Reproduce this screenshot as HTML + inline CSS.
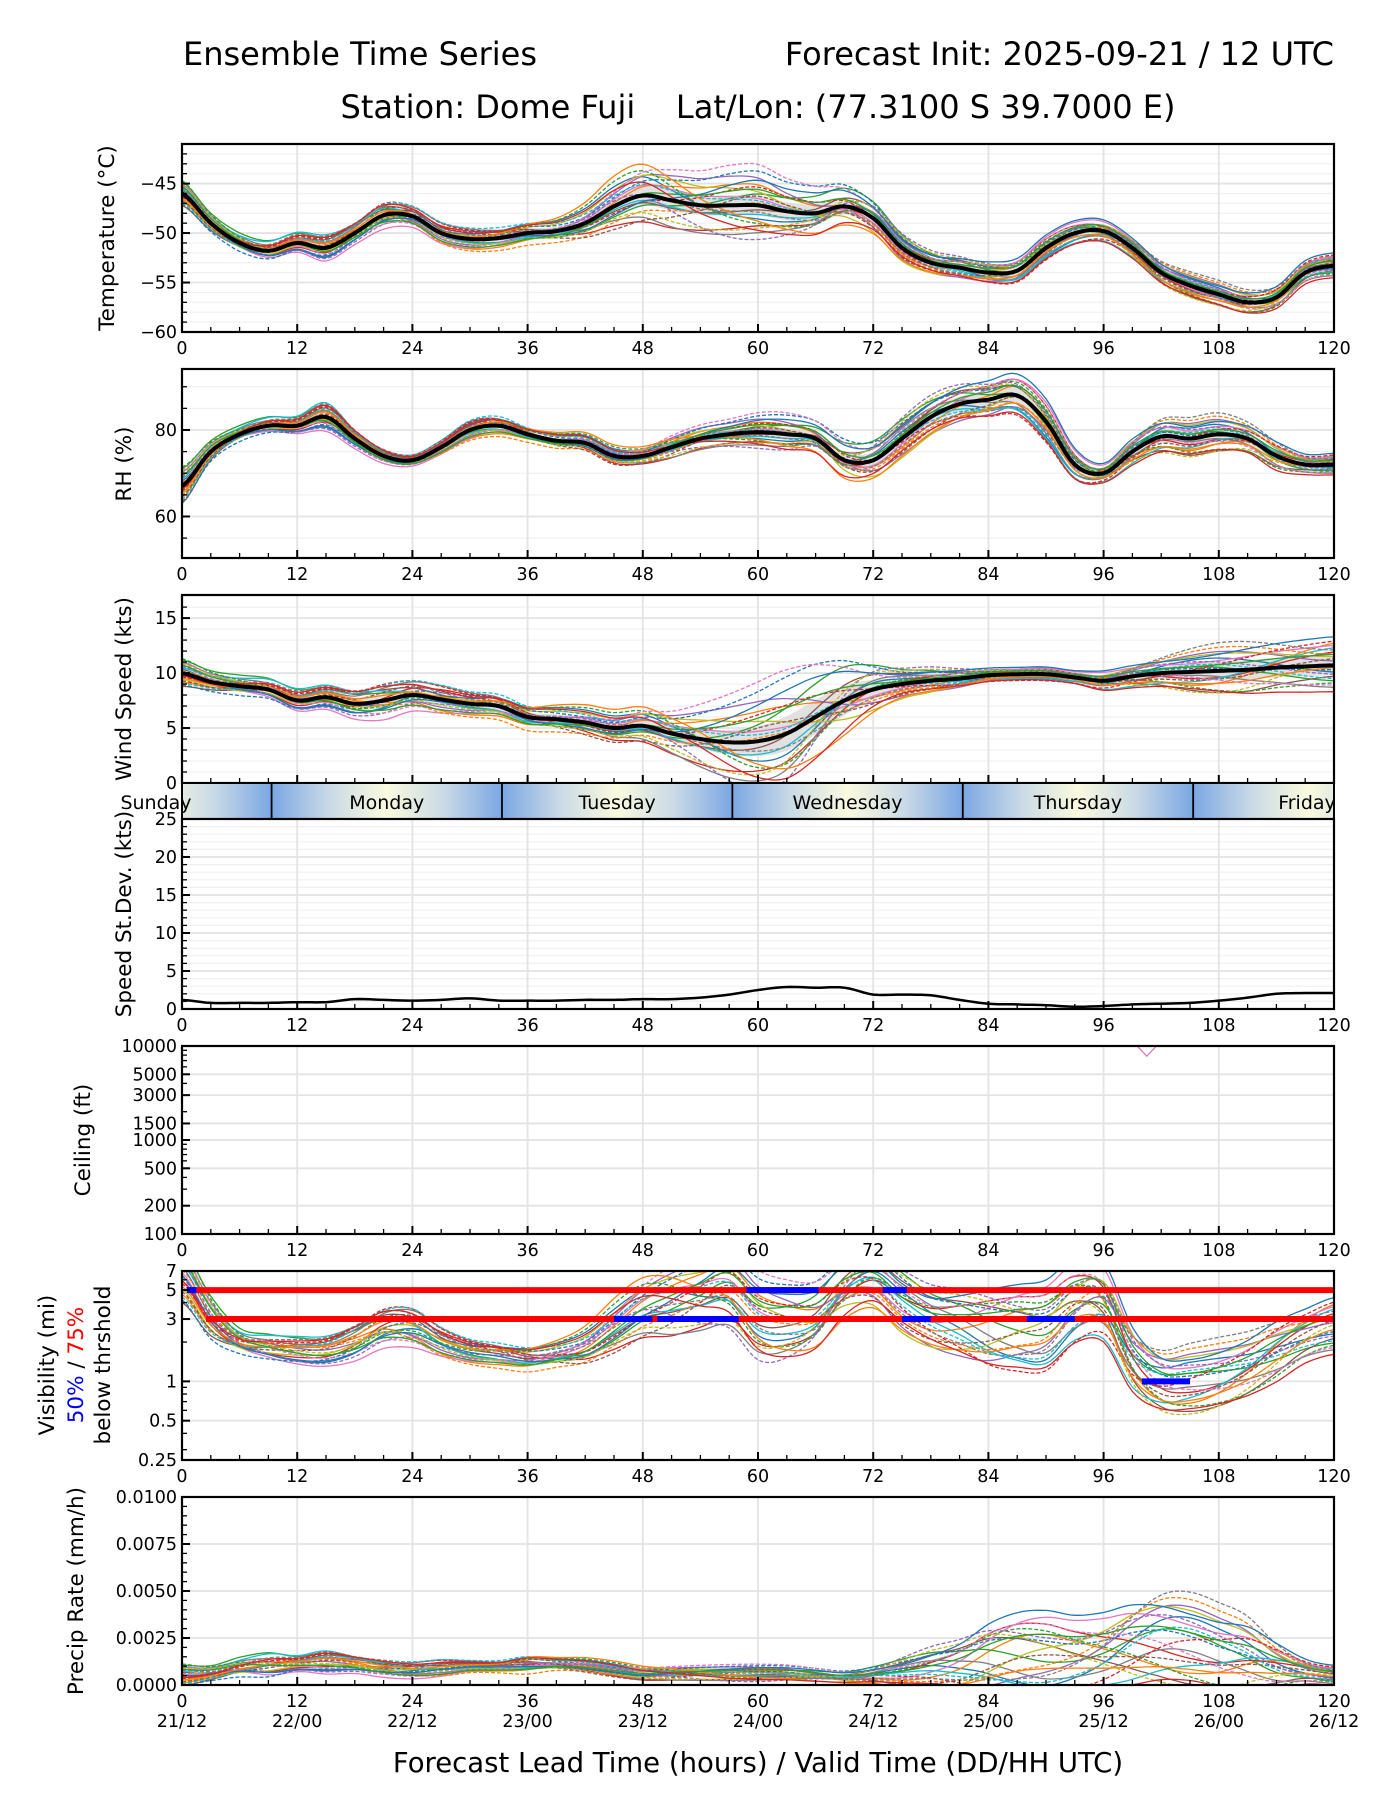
<!DOCTYPE html>
<html><head><meta charset="utf-8">
<style>
html,body{margin:0;padding:0;background:#fff;}
svg{display:block;font-family:"DejaVu Sans","Liberation Sans",sans-serif;}
</style></head>
<body>
<svg id="fig" width="1400" height="1800" viewBox="0 0 1400 1800" xmlns="http://www.w3.org/2000/svg">
<defs>
<linearGradient id="dayg" x1="0" x2="1" y1="0" y2="0">
<stop offset="0" stop-color="#7ba7e3"/><stop offset="0.25" stop-color="#c9d9e6"/><stop offset="0.5" stop-color="#fafade"/><stop offset="0.75" stop-color="#c9d9e6"/><stop offset="1" stop-color="#7ba7e3"/>
</linearGradient>
</defs>
<text x="183" y="65" font-size="32" fill="#000">Ensemble Time Series</text>
<text x="1334" y="65" font-size="32" text-anchor="end" fill="#000">Forecast Init: 2025-09-21 / 12 UTC</text>
<text x="758" y="118" font-size="32" text-anchor="middle" fill="#000" xml:space="preserve">Station: Dome Fuji    Lat/Lon: (77.3100 S 39.7000 E)</text>
<text x="758" y="1772" font-size="27.5" text-anchor="middle" fill="#000">Forecast Lead Time (hours) / Valid Time (DD/HH UTC)</text>
</svg>
<script>
// ---------- data (3-hourly, hours 0..120) ----------
const hours = [0,3,6,9,12,15,18,21,24,27,30,33,36,39,42,45,48,51,54,57,60,63,66,69,72,75,78,81,84,87,90,93,96,99,102,105,108,111,114,117,120];
const tempMean = [-46,-49,-51,-51.8,-51,-51.5,-50,-48.2,-48.3,-50,-50.6,-50.5,-50,-49.8,-49,-47.3,-46.2,-46.7,-47.2,-47.2,-47.2,-47.8,-48,-47.3,-48.5,-51.5,-53,-53.5,-54,-53.8,-51.5,-50,-49.8,-51.5,-54,-55.3,-56.2,-57,-56.5,-54,-53.3];
const tempSpread = [1.2,1,1,1,1,1.2,1,1.2,1,1,1,1,1,1,1.3,1.8,2.2,2.3,2.2,2.3,2.3,2,2,1.8,1.5,1.2,1,1,1,1,1,1,1,1,1,1,1,1,1,1,1];
const rhMean = [67,75,79,81,81,83,78,74,73,76,80,81,79,77.5,77,74,74,76,78,79,79.5,79,78,73,73,78,83,86,87,88,82,72,70,75,78.5,78,79,78,74,72,72];
const rhSpread = [4,2.5,2,2,2,3,2,1.5,1.2,1.5,2,2,1.5,1.5,1.5,1.5,1.5,2,2,2,2.5,3,3,4,4,4,4,4,4,4,4,3,2,3,3.5,3.5,3.5,3,3,2,2];
const windMean = [10,9.2,8.8,8.5,7.5,7.8,7.2,7.5,8,7.6,7.2,7,6,5.8,5.5,5,5.2,4.5,4,3.7,3.8,4.5,6,7.5,8.5,9,9.3,9.5,9.8,9.9,9.9,9.6,9.3,9.7,10,10.1,10.2,10.3,10.5,10.6,10.7];
const windSpread = [1.2,1,1,1,1,1,1.2,1.5,1.3,1.2,1,1,1,1,1,1,1.2,1.5,2,2.5,3,3.5,3.5,3,2,1.2,1,0.8,0.6,0.5,0.5,0.5,0.8,1,1.2,1.5,1.8,2,2,2,2];
const stdDev = [1.2,0.8,0.8,0.8,0.9,0.9,1.3,1.2,1.1,1.2,1.4,1.1,1.1,1.1,1.2,1.2,1.3,1.3,1.5,1.9,2.5,2.9,2.8,2.8,1.9,1.9,1.8,1.2,0.7,0.6,0.5,0.3,0.4,0.6,0.7,0.8,1.1,1.5,2,2.1,2.1];
const visMedian = [6.5,3,2,1.8,1.7,1.7,2,2.6,2.6,2,1.7,1.6,1.5,1.6,1.8,2.5,3.5,4,4.5,5,3,2.7,3,5,6,4,3,2.7,2.5,2.5,2.6,4,4,1.5,1,1,1.1,1.3,1.7,2.2,2.6];
const visSpreadLog = [0.3,0.25,0.15,0.15,0.15,0.15,0.18,0.2,0.2,0.15,0.12,0.12,0.12,0.12,0.15,0.2,0.25,0.3,0.3,0.3,0.3,0.3,0.3,0.3,0.3,0.3,0.3,0.35,0.4,0.4,0.4,0.4,0.4,0.35,0.3,0.3,0.3,0.3,0.3,0.25,0.25];
const precipMean = [0.0005,0.0006,0.0009,0.001,0.0011,0.0012,0.0011,0.0009,0.0008,0.0009,0.001,0.001,0.0011,0.0011,0.001,0.0008,0.0006,0.0006,0.0006,0.0006,0.0006,0.0006,0.0005,0.0004,0.0005,0.0006,0.0008,0.001,0.0014,0.0016,0.0016,0.0016,0.0018,0.0022,0.0024,0.0022,0.0018,0.0015,0.001,0.0007,0.0005];
const precipSpread = [0.0004,0.0003,0.0004,0.0005,0.0003,0.0004,0.0003,0.0003,0.0003,0.0003,0.0002,0.0002,0.0003,0.0002,0.0002,0.0002,0.0002,0.0002,0.0002,0.0002,0.0002,0.0002,0.0002,0.0002,0.0003,0.0005,0.0007,0.0009,0.0012,0.0013,0.0013,0.0012,0.0013,0.0015,0.0015,0.0014,0.0013,0.0012,0.0008,0.0004,0.0003];
const ceilingHours = [99.5,100.5,101.5];
const ceilingValues = [10000,7800,10000];
// visibility thresholds: [value, startHour, endHour]
const visRed = [[5,1,120],[3,2.5,120]];
const visBlue = [[5,0.5,1.5],[5,58.8,66.3],[5,73,75.5],[3,45,49],[3,49.5,58],[3,75,78],[3,88,93],[1,100,105]];
// member perturbations at knots h=0,15,...,120 (in units of spread)
const memberKnots = [0,15,30,45,60,75,90,105,120];
const memberPerturb = [
 [0.3,-0.8,0.5,1.1,-0.6,0.4,-0.9,0.7,-0.3],
 [-0.7,0.4,-1,0.2,0.9,-0.5,0.6,-0.8,1.0],
 [1.0,0.9,-0.3,-0.6,0.5,1.1,-0.2,0.3,-0.7],
 [-0.2,-0.4,0.8,-1.1,-0.9,0.2,0.9,-0.4,0.6],
 [0.6,0.1,-0.6,0.7,1.2,-0.9,-0.5,1.0,0.2],
 [-1.0,0.7,0.2,-0.3,-0.2,0.8,0.3,-1.1,-0.5],
 [0.1,-1.1,-0.9,0.4,0.3,-0.3,1.1,0.5,0.9],
 [0.8,0.5,1.0,-0.8,-1.2,0.6,-0.7,-0.2,-1.0],
 [-0.5,-0.2,0.3,0.9,0.6,-1.1,0.2,0.9,0.4],
 [0.4,1.1,-0.4,-0.2,-0.4,0.1,-1.0,-0.6,0.8],
 [-0.9,-0.6,0.7,0.5,1.5,0.9,0.4,0.2,-0.2],
 [0.2,0.3,-1.2,-0.9,0.1,-0.6,-0.3,1.2,0.5],
 [1.1,-0.3,0.1,1.4,-0.8,0.3,0.7,-0.9,-0.8],
 [-0.3,0.8,0.9,-0.4,0.8,-0.2,-1.2,0.1,1.1],
 [0.5,-0.9,-0.2,0.3,-1.5,1.2,0.5,0.6,-0.4],
 [-0.6,0.2,0.6,-1.3,0.4,-0.8,0.0,-0.5,0.3],
 [0.9,-0.5,-0.7,0.8,1.8,0.5,0.9,-0.3,-0.9],
 [-0.1,1.0,0.4,0.1,-0.3,-0.4,-0.6,1.4,0.7],
 [0.7,-0.1,-0.5,-0.7,-1.0,1.0,0.3,-1.2,0.1],
 [-0.8,0.6,1.1,0.6,0.2,-0.1,-0.8,0.4,-0.6],
 [0.0,-0.7,-0.1,-0.5,1.1,0.7,1.3,0.8,1.3],
 [-0.4,0.4,0.2,1.7,-0.7,-1.0,-0.4,-0.7,-0.1],
 [0.6,-0.3,-0.8,-0.1,0.7,0.2,0.6,0.3,0.5],
 [-0.2,0.9,0.6,0.9,-1.1,-0.7,-1.1,-1.0,-1.2]
];
const xTicks = [0,12,24,36,48,60,72,84,96,108,120];
const dateLabels = ["21/12","22/00","22/12","23/00","23/12","24/00","24/12","25/00","25/12","26/00","26/12"];
const dayNames = ["Sunday","Monday","Tuesday","Wednesday","Thursday","Friday"];
const dayCenters = [-2.67,21.33,45.33,69.33,93.33,117.33];
const dayBounds = [9.33,33.33,57.33,81.33,105.33];
const colors = ["#1f77b4","#ff7f0e","#2ca02c","#d62728","#9467bd","#8c564b","#e377c2","#7f7f7f","#bcbd22","#17becf"];

// ---------- helpers ----------
const NS="http://www.w3.org/2000/svg";
const svg=document.getElementById('fig');
const L=182,R=1334;
function X(h){return L+h/120*(R-L);}
function mk(tag,attrs,parent){const e=document.createElementNS(NS,tag);for(const k in attrs)e.setAttribute(k,attrs[k]);(parent||svg).appendChild(e);return e;}
function interp(xs,ys,h){
  if(h<=xs[0])return ys[0]; if(h>=xs[xs.length-1])return ys[ys.length-1];
  let i=0;while(xs[i+1]<h)i++;
  const t=(h-xs[i])/(xs[i+1]-xs[i]);
  const y0=ys[Math.max(0,i-1)],y1=ys[i],y2=ys[i+1],y3=ys[Math.min(ys.length-1,i+2)];
  const t2=t*t,t3=t2*t;
  return 0.5*((2*y1)+(-y0+y2)*t+(2*y0-5*y1+4*y2-y3)*t2+(-y0+3*y1-3*y2+y3)*t3);
}
function pathFrom(fn,yf,h0,h1,step){let d="";for(let h=h0;h<=h1+1e-9;h+=step){const v=fn(h);d+=(d?"L":"M")+X(h).toFixed(1)+","+yf(v).toFixed(1);}return d;}

function panel(name,top,bot,ymin,ymax,log,yticks,ylabels,minorTicks,minorGrid,noXLabels){
  const g=mk('g',{});
  
  
  const yf=log?(v=>bot-(Math.log(v)-Math.log(ymin))/(Math.log(ymax)-Math.log(ymin))*(bot-top)):(v=>bot-(v-ymin)/(ymax-ymin)*(bot-top));
  const cid='clip-'+name;
  const cp=mk('clipPath',{id:cid},g);mk('rect',{x:L,y:top,width:R-L,height:bot-top},cp);
  (minorGrid||[]).forEach(v=>{mk('line',{x1:L,x2:R,y1:yf(v),y2:yf(v),stroke:'#f0f0f0','stroke-width':1.2},g);});
  yticks.forEach(v=>{mk('line',{x1:L,x2:R,y1:yf(v),y2:yf(v),stroke:'#e3e3e3','stroke-width':1.8},g);});
  xTicks.forEach(h=>{mk('line',{x1:X(h),x2:X(h),y1:top,y2:bot,stroke:'#e3e3e3','stroke-width':1.8},g);});
  const plot=mk('g',{'clip-path':'url(#'+cid+')'},g);
  
  
  for(let h=0;h<=120;h+=3){const maj=h%12===0;mk('line',{x1:X(h),x2:X(h),y1:bot,y2:bot-(maj?8:5),stroke:'#000','stroke-width':maj?2:1.3},g);}
  (minorTicks||[]).forEach(v=>{mk('line',{x1:L,x2:L+5,y1:yf(v),y2:yf(v),stroke:'#000','stroke-width':1.3},g);});
  yticks.forEach((v,i)=>{mk('line',{x1:L,x2:L+8,y1:yf(v),y2:yf(v),stroke:'#000','stroke-width':2},g);
    const t=mk('text',{x:L-5,y:yf(v)+6,'font-size':17.5,'text-anchor':'end'},g);t.textContent=ylabels[i];
    
    });
  if(!noXLabels) xTicks.forEach(h=>{const t=mk('text',{x:X(h),y:bot+22,'font-size':17.5,'text-anchor':'middle'},g);t.textContent=h;
    
    });
  return {g,plot,yf,top,bot,border:()=>mk('rect',{x:L,y:top,width:R-L,height:bot-top,fill:'none',stroke:'#000','stroke-width':2.2},g)};
}
function ylabel(text,x,cy,size,color){const t=mk('text',{x:x,y:cy,'font-size':size||21.5,'text-anchor':'middle',transform:`rotate(-90 ${x} ${cy})`,fill:color||'#000'});t.textContent=text;
  
  return t;}

function ensemble(P,mean,spread,opts){
  opts=opts||{};
  const mf=h=>interp(hours,mean,h), sf=h=>interp(hours,spread,h);
  const tr=opts.tr||(v=>v);
  let up="",dn=[];
  for(let h=0;h<=120;h+=1){const m=mf(h),s=sf(h)*0.45;up+=(up?"L":"M")+X(h).toFixed(1)+","+P.yf(tr(m+s)).toFixed(1);dn.push(X(h).toFixed(1)+","+P.yf(tr(m-s)).toFixed(1));}
  if(opts.band!==false){const b=mk('path',{d:up+"L"+dn.reverse().join("L")+"Z",fill:'#dcdcdc',opacity:0.85},P.plot);
    
    }
  memberPerturb.forEach((pp,i)=>{
    const f=h=>{const v=mf(h)+sf(h)*interp(memberKnots,pp,h)*(opts.k||1);return tr(opts.clampMin!==undefined?Math.max(opts.clampMin,v):v);};
    const p=mk('path',{d:pathFrom(f,P.yf,0,120,0.5),fill:'none',stroke:colors[i%10],'stroke-width':1.3,'stroke-dasharray':i>=10&&i<20?'4,2':'none'},P.plot);
    
    
  });
  if(opts.mean!==false){const m=mk('path',{d:pathFrom(h=>tr(mf(h)),P.yf,0,120,0.5),fill:'none',stroke:'#000','stroke-width':4,'stroke-linejoin':'round'},P.plot);
    
    }
}

// ---------- Temperature ----------
let P=panel('temperature',144,332,-60,-41,false,[-45,-50,-55,-60],['−45','−50','−55','−60'],[-59,-58,-57,-56,-54,-53,-52,-51,-49,-48,-47,-46,-44,-43,-42],[-59,-58,-57,-56,-54,-53,-52,-51,-49,-48,-47,-46,-44,-43,-42]);
ensemble(P,tempMean,tempSpread);P.border();
ylabel('Temperature (°C)',114,238);

// ---------- RH ----------
P=panel('rh',369,558,50.4,94.1,false,[60,80],['60','80'],[55,65,70,75,85,90],[55,65,70,75,85,90]);
ensemble(P,rhMean,rhSpread);P.border();
ylabel('RH (%)',131,464);

// ---------- Wind ----------
P=panel('wind',595,783,0,17.1,false,[0,5,10,15],['0','5','10','15'],[1,2,3,4,6,7,8,9,11,12,13,14,16],[1,2,3,4,6,7,8,9,11,12,13,14,16],true);
ensemble(P,windMean,windSpread,{clampMin:0});P.border();
ylabel('Wind Speed (kts)',131,689);

// ---------- Day band ----------
const band=mk('g',{});


for(let d=-1;d<6;d++){const x0=X(9.33+24*d),x1=X(9.33+24*(d+1));const a=Math.max(L,x0),b=Math.min(R,x1);
  if(b>a){const cp=mk('clipPath',{id:'dc'+d},band);mk('rect',{x:a,y:783,width:b-a,height:36},cp);
  mk('rect',{x:x0,y:783,width:x1-x0,height:36,fill:'url(#dayg)','clip-path':'url(#dc'+d+')'},band);}}
dayBounds.forEach(h=>mk('line',{x1:X(h),x2:X(h),y1:783,y2:819,stroke:'#000','stroke-width':1.8},band));
mk('rect',{x:L,y:783,width:R-L,height:36,fill:'none',stroke:'#000','stroke-width':2},band);
dayNames.forEach((n,i)=>{let cx=X(dayCenters[i]);if(i===0)cx=156;if(i===5)cx=1307;
  const t=mk('text',{x:cx,y:809,'font-size':19,'text-anchor':'middle'},band);t.textContent=n;
  
  });

// ---------- StDev ----------
P=panel('speed-stdev',819,1009,0,25,false,[0,5,10,15,20,25],['0','5','10','15','20','25'],[1,2,3,4,6,7,8,9,11,12,13,14,16,17,18,19,21,22,23,24],[1,2,3,4,6,7,8,9,11,12,13,14,16,17,18,19,21,22,23,24]);
{const sd=mk('path',{d:pathFrom(h=>interp(hours,stdDev,h),P.yf,0,120,0.5),fill:'none',stroke:'#000','stroke-width':2.5},P.plot);
 
 }
P.border();
ylabel('Speed St.Dev. (kts)',131,914);

// ---------- Ceiling ----------
P=panel('ceiling',1046,1234,100,10000,true,[100,200,500,1000,1500,3000,5000,10000],['100','200','500','1000','1500','3000','5000','10000'],[300,400,600,700,800,900,2000,4000,6000,7000,8000,9000],[]);
{let d="";ceilingHours.forEach((h,i)=>{d+=(d?"L":"M")+X(h)+","+P.yf(ceilingValues[i]);});
 const c=mk('path',{d:d,fill:'none',stroke:'#e377c2','stroke-width':1.3},P.plot);
 
 }
P.border();
ylabel('Ceiling (ft)',90,1140);

// ---------- Visibility ----------
P=panel('visibility',1271,1460,0.25,7,true,[0.25,0.5,1,3,5,7],['0.25','0.5','1','3','5','7'],[0.3,0.4,0.6,0.7,0.8,0.9,2,4,6],[]);
{const lm=visMedian.map(v=>Math.log(v));
 ensemble(P,lm,visSpreadLog,{tr:v=>Math.exp(v),band:false,mean:false,k:1.6});}
visRed.forEach(r=>{const l=mk('line',{x1:X(r[1]),x2:X(r[2]),y1:P.yf(r[0]),y2:P.yf(r[0]),stroke:'#ff0000','stroke-width':6},P.plot);
  
  });
visBlue.forEach(r=>{const l=mk('line',{x1:X(r[1]),x2:X(r[2]),y1:P.yf(r[0]),y2:P.yf(r[0]),stroke:'#0000ff','stroke-width':6},P.plot);
  
  });
P.border();
ylabel('Visibility (mi)',54,1365);
{const t=mk('text',{x:83,y:1365,'font-size':21.5,'text-anchor':'middle',transform:'rotate(-90 83 1365)'});
 
 
 const a=mk('tspan',{fill:'#0000ff'},t);a.textContent='50%';
 const b=mk('tspan',{fill:'#000'},t);b.textContent=' / ';
 const c=mk('tspan',{fill:'#ff0000'},t);c.textContent='75%';}
ylabel('below thrshold',110,1365);

// ---------- Precip ----------
P=panel('precip',1497,1685,0,0.01,false,[0,0.0025,0.005,0.0075,0.01],['0.0000','0.0025','0.0050','0.0075','0.0100'],[0.0005,0.001,0.0015,0.002,0.003,0.0035,0.004,0.0045,0.0055,0.006,0.0065,0.007,0.008,0.0085,0.009,0.0095],[]);
ensemble(P,precipMean,precipSpread,{band:false,mean:false,clampMin:0,k:1.4});
P.border();
ylabel('Precip Rate (mm/h)',83,1591);
xTicks.forEach((h,i)=>{const t=mk('text',{x:X(h),y:1727,'font-size':17.5,'text-anchor':'middle'});t.textContent=dateLabels[i];
  
  });
</script>
</body></html>
